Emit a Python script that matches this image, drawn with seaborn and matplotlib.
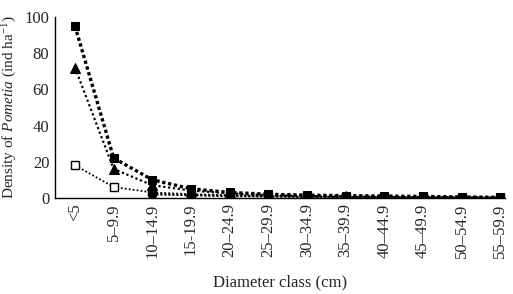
import matplotlib
matplotlib.use("Agg")
import matplotlib.pyplot as plt
import seaborn as sns
import numpy as np
import pandas as pd

classes = ['<5', '5–9.9', '10–14.9', '15-19.9', '20–24.9', '25–29.9', '30–34.9',
           '35–39.9', '40–44.9', '45–49.9', '50–54.9', '55–59.9']
filled_square = [95, 22, 10, 5, 3, 2, 1.5, 1.2, 1.0, 0.8, 0.5, 0.3]
triangle = [72, 16, 7, 4, 2.5, 1.5, 1.0, 0.8, 0.5, 0.4, 0.2, 0.1]
open_square = [18, 6, 3, 2, 1.5, 1.0, 0.8, 0.5, 0.4, 0.3, 0.2, 0.1]
circle = [np.nan, np.nan, 2, 1.5, 1.0, 0.8, 0.5, 0.5, 0.4, 0.3, 0.2, 0.1]
yticks = [0, 20, 40, 60, 80, 100]

sns.set_style("white")
plt.rcParams['font.family'] = ['Liberation Serif', 'DejaVu Serif']
plt.rcParams['mathtext.fontset'] = 'custom'
plt.rcParams['mathtext.rm'] = 'Liberation Serif'
plt.rcParams['mathtext.it'] = 'Liberation Serif:italic'

fig = plt.figure(figsize=(5.13, 2.94), dpi=100)
ax = fig.add_axes([0.107, 0.327, 0.878, 0.615])

x = np.arange(len(classes))
df = pd.DataFrame({'x': x, 'fs': filled_square, 'tr': triangle, 'os': open_square, 'ci': circle})

sns.lineplot(data=df, x='x', y='os', ax=ax, color='black', lw=1.3, ls=(0, (1, 1.2)),
             marker='s', markersize=6, markerfacecolor='white', markeredgecolor='black', markeredgewidth=1)
sns.lineplot(data=df, x='x', y='tr', ax=ax, color='black', lw=1.6, ls=(0, (1, 1.2)),
             marker='^', markersize=7.5, markerfacecolor='black', markeredgecolor='black')
sns.lineplot(data=df, x='x', y='ci', ax=ax, color='black', lw=1.6, ls=(0, (1, 0.8)),
             marker='o', markersize=6, markerfacecolor='black', markeredgecolor='black')
sns.lineplot(data=df, x='x', y='fs', ax=ax, color='black', lw=2.4, ls=(0, (1, 0.8)),
             marker='s', markersize=6, markerfacecolor='black', markeredgecolor='black')

ax.set_xlim(-0.52, 11.13)
ax.set_ylim(0, 100)
ax.set_yticks(yticks)
ax.set_yticklabels([str(v) for v in yticks], fontsize=12)
ax.set_xticks(x)
ax.set_xticklabels(classes, rotation=90, fontsize=12)
ax.tick_params(axis='both', length=0, pad=4)
sns.despine(ax=ax)
for s in ['left', 'bottom']:
    ax.spines[s].set_color('black')
    ax.spines[s].set_linewidth(1)

ax.set_xlabel('Diameter class (cm)', fontsize=12, labelpad=12)
ax.set_ylabel('Density of $\\mathit{Pometia}$ (ind ha$^{-1}$)', fontsize=11, labelpad=4)

fig.savefig('out.png', dpi=100)
